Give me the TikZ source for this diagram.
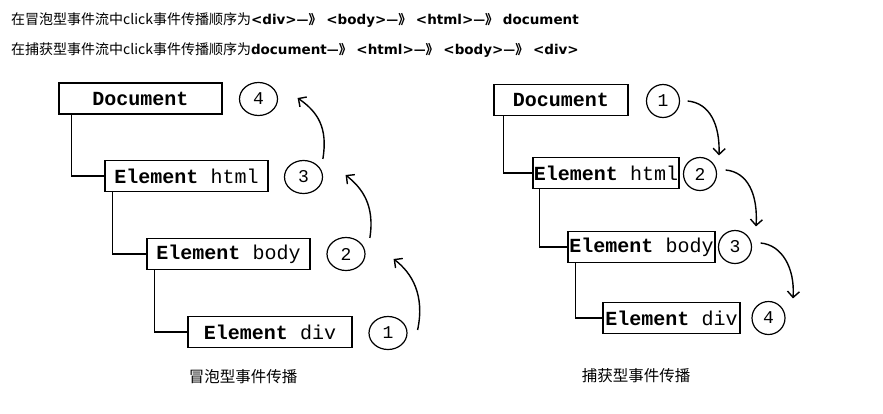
\documentclass[tikz,border=0pt]{standalone}
\usepackage{fontspec}
\setmainfont{Liberation Serif}
\newfontfamily\cjk{Noto Sans CJK SC}
\newfontfamily\latb{DejaVu Sans}
\newfontfamily\mono{Liberation Mono}
\usetikzlibrary{arrows.meta,shapes.geometric}
\newcommand{\arr}{{\cjk\bfseries\fontsize{13}{13}\selectfont —》}\ }
\begin{document}
\begin{tikzpicture}[x=1pt,y=-1pt,
  elem/.style={draw, line width=1.3pt, minimum height=31pt, inner sep=0pt, font=\mono\fontsize{20}{20}\selectfont},
  numL/.style={draw, ellipse, line width=1.2pt, minimum width=38pt, minimum height=33pt, inner sep=0pt, font=\mono\fontsize{18}{18}\selectfont},
  numR/.style={draw, circle, line width=1.2pt, minimum size=33pt, inner sep=0pt, font=\mono\fontsize{18}{18}\selectfont},
  tree/.style={line width=1.5pt},
  flow/.style={line width=1.4pt, -{Straight Barb[length=6pt,width=12pt,line width=1.4pt]}},
  hdr/.style={anchor=west, inner sep=0pt, font=\cjk\fontsize{14}{14}\selectfont},
  capt/.style={inner sep=0pt, font=\cjk\fontsize{15.5}{15.5}\selectfont}
]
\fill[white] (0,0) rectangle (883,413);
\useasboundingbox (0,0) rectangle (883,413);

% header
\node[hdr] (h1) at (11,20.5) {在冒泡型事件流中click事件传播顺序为{\latb\bfseries\fontsize{13.5}{13.5}\selectfont <div>\arr<body>\arr<html>\arr document}};
\node[hdr] (h2) at (11,50.5) {在捕获型事件流中click事件传播顺序为{\latb\bfseries\fontsize{13.5}{13.5}\selectfont document\arr<html>\arr<body>\arr<div>}};

% left diagram
\node[elem, minimum width=163pt] (docL) at (140.5,98.5) {\textbf{Document}};
\node[elem, minimum width=163pt] (htmlL) at (186.5,176) {\textbf{Element} html};
\node[elem, minimum width=163pt] (bodyL) at (228.5,254) {\textbf{Element} body};
\node[elem, minimum width=164pt] (divL) at (270,332) {\textbf{Element} div};

\node[numL] (c4L) at (258.5,99) {4};
\node[numL] (c3L) at (303.5,177) {3};
\node[numL] (c2L) at (346,254) {2};
\node[numL] (c1L) at (388,333) {1};

\draw[tree] ([xshift=13pt]docL.south west) |- (htmlL.west);
\draw[tree] ([xshift=8pt]htmlL.south west) |- (bodyL.west);
\draw[tree] ([xshift=8pt]bodyL.south west) |- (divL.west);

\draw[flow] ([shift={(5.5,-6)}]c3L.north east) .. controls (328,128) and (318,112) .. ([shift={(19.5,-1)}]c4L.east);
\draw[flow] ([shift={(10,-4)}]c2L.north east) .. controls (375,205) and (362,188) .. ([shift={(22.5,-2)}]c3L.east);
\draw[flow] ([shift={(10,-3)}]c1L.east) .. controls (425,295) and (412,273) .. ([shift={(28,5)}]c2L.east);

\node[capt] (capL) at (243,377) {冒泡型事件传播};

% right diagram
\node[elem, minimum width=134pt] (docR) at (561,100) {\textbf{Document}};
\node[elem, minimum width=146pt] (htmlR) at (606,173) {\textbf{Element} html};
\node[elem, minimum width=147pt] (bodyR) at (641.5,247) {\textbf{Element} body};
\node[elem, minimum width=137pt] (divR) at (671.5,318) {\textbf{Element} div};

\node[numR] (c1R) at (663,101) {1};
\node[numR] (c2R) at (700,174) {2};
\node[numR] (c3R) at (735,247) {3};
\node[numR] (c4R) at (768.5,318) {4};

\draw[tree] ([xshift=10pt]docR.south west) |- (htmlR.west);
\draw[tree] ([xshift=7pt]htmlR.south west) |- (bodyR.west);
\draw[tree] ([xshift=8pt]bodyR.south west) |- (divR.west);

\draw[flow] ([xshift=7.5pt]c1R.east) .. controls (710,103) and (720,125) .. ([shift={(19,-1.5)}]c2R.north);
\draw[flow] ([shift={(8.5,-4)}]c2R.east) .. controls (748,172) and (758,195) .. ([shift={(21,-3.5)}]c3R.north);
\draw[flow] ([shift={(8.5,-4)}]c3R.east) .. controls (782,245) and (795,268) .. ([shift={(24.5,-2.5)}]c4R.north);

\node[capt] (capR) at (636,376) {捕获型事件传播};
\end{tikzpicture}
\end{document}
